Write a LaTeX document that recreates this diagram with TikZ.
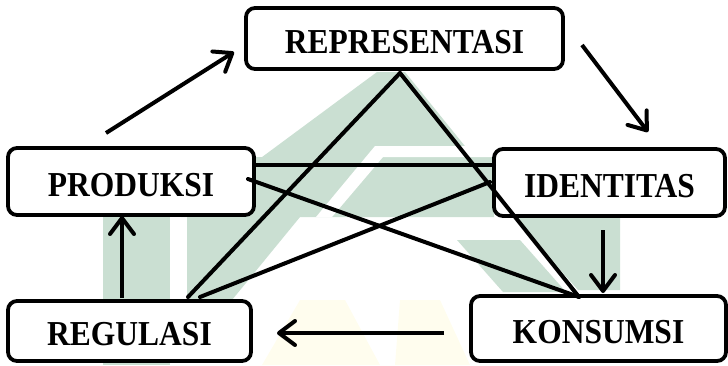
\documentclass[tikz,border=0pt]{standalone}
\usepackage{fontspec}
\usepackage{graphicx}
\setmainfont{Liberation Serif}
\usetikzlibrary{arrows.meta}
\definecolor{wmgreen}{RGB}{202,223,210}
\definecolor{wmyellow}{RGB}{255,253,238}
\newcommand{\boxtext}[1]{\scalebox{0.9}[1]{#1}}
\begin{document}
\begin{tikzpicture}[x=1pt,y=-1pt,
  box/.style={draw=black, line width=3.8pt, rounded corners=9pt, fill=white,
    inner sep=0pt, text height=29pt, text depth=0pt,
    font=\fontsize{35}{35}\selectfont\bfseries},
  link/.style={line width=4pt, line cap=round},
  arr/.style={line width=4pt, -{Straight Barb[length=16pt,width=24pt,round]}},
  wm/.style={fill=wmgreen, draw=none},
  wmw/.style={fill=white, draw=none}]
\useasboundingbox (0,0) rectangle (728,365);
% watermark (faint logo)
\fill[wmyellow] (300,300) -- (345,300) -- (380,365) -- (262,365) -- cycle;
\fill[wmyellow] (400,300) -- (440,300) -- (470,365) -- (395,365) -- cycle;
\path[wm] (377,72) -- (405,72) -- (494,182) -- (494,217) -- (181,217) -- cycle;
\path[wm] (250,157) -- (494,157) -- (494,217) -- (250,217) -- cycle;
\path[wm] (187,217) -- (300,217) -- (232,300) -- (187,300) -- cycle;
\path[wm] (103,217) -- (170,217) -- (170,365) -- (103,365) -- cycle;
\path[wm] (457,240) -- (520,240) -- (566,292) -- (503,292) -- cycle;
\path[wm] (512,216) -- (620,216) -- (620,290) -- (578,290) -- cycle;
\path[wmw] (375,146) -- (494,146) -- (494,157) -- (383,157) -- (332,217) -- (316,217) -- cycle;
% boxes
\node[box, minimum width=317pt, minimum height=61pt] (rep) at (404.5,38.5) {\boxtext{REPRESENTASI}};
\node[box, minimum width=246pt, minimum height=67pt] (prod) at (131,181.5) {\boxtext{PRODUKSI}};
\node[box, minimum width=231pt, minimum height=67pt] (iden) at (609.5,182.5) {\boxtext{IDENTITAS}};
\node[box, minimum width=243pt, minimum height=60pt] (regu) at (129.5,331) {\boxtext{REGULASI}};
\node[box, minimum width=255pt, minimum height=65pt] (kons) at (598.5,328.5) {\boxtext{KONSUMSI}};
% connector end points
\coordinate (apex) at (400,73);
\coordinate (reguA) at (188,297);
\coordinate (reguB) at (200,297);
\coordinate (konsA) at (579,297);
\coordinate (prodA) at (254,165);
\coordinate (prodB) at (248,179);
\coordinate (idenA) at (494,165);
\coordinate (idenB) at (490,182);
\coordinate (a1s) at (106,133);
\coordinate (a1e) at (234,52);
\coordinate (a2s) at (582,45);
\coordinate (a2e) at (648,132);
\coordinate (a3s) at (603,230);
\coordinate (a3e) at (603,293);
\coordinate (a4s) at (444,333);
\coordinate (a4e) at (277,333);
\coordinate (a5s) at (122,298);
\coordinate (a5e) at (122,216);
% plain links
\draw[link] (reguA) -- (apex) -- (konsA);
\draw[link] (prodA) -- (idenA);
\draw[link] (prodB) -- (konsA);
\draw[link] (reguB) -- (idenB);
% arrows
\draw[arr] (a1s) -- (a1e);
\draw[arr] (a2s) -- (a2e);
\draw[arr] (a3s) -- (a3e);
\draw[arr] (a4s) -- (a4e);
\draw[arr] (a5s) -- (a5e);
\end{tikzpicture}
\end{document}
